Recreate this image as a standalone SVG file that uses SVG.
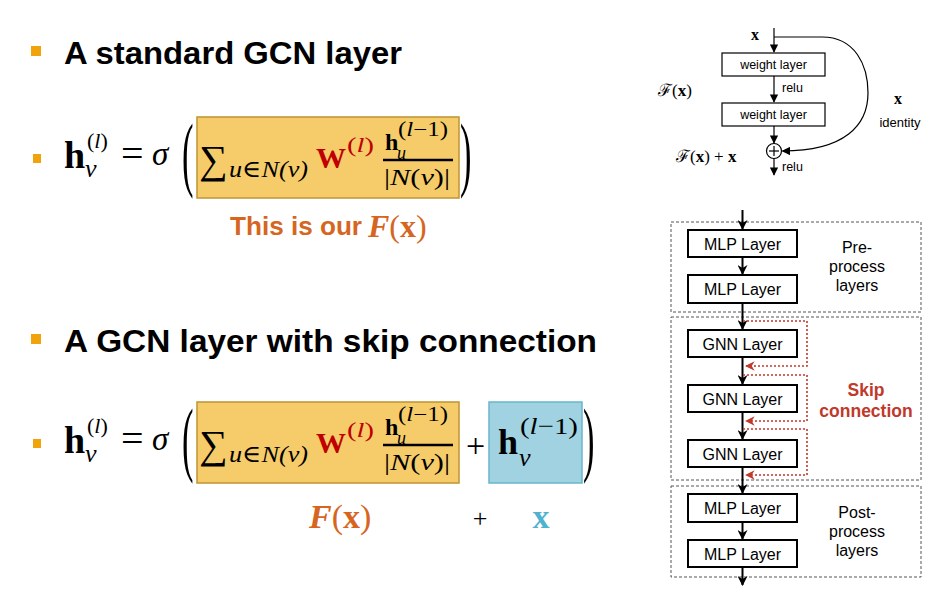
<svg xmlns="http://www.w3.org/2000/svg" width="950" height="602" viewBox="0 0 950 602">
<style>
.title{font-family:'Liberation Sans',Arial,sans-serif;font-weight:bold;font-size:32px;fill:#000}
.m{font-family:'Liberation Serif','DejaVu Serif',serif;fill:#000}
.b{font-weight:bold}
.i{font-style:italic}
.bul{fill:#F0A30A}
.yel{fill:#F6CC6A;stroke:#BF9432;stroke-width:1.5}
.blu{fill:#A0D2E1;stroke:#68B6CC;stroke-width:1.5}
.red{fill:#C00000}
.org{fill:#D6661F}
.cyan{fill:#4FB3CF}
.sans{font-family:'Liberation Sans',Arial,sans-serif;fill:#000}
.layer{fill:#fff;stroke:#000;stroke-width:2}
.wl{fill:#fff;stroke:#000;stroke-width:1.2}
.grp{fill:none;stroke:#555;stroke-width:1;stroke-dasharray:3,2}
.arr{stroke:#000;stroke-width:2;fill:none;marker-end:url(#ah)}
.arr1{stroke:#000;stroke-width:1.2;fill:none;marker-end:url(#ah2)}
.skip{stroke:#C0392B;stroke-width:1.6;fill:none;stroke-dasharray:2,2;marker-end:url(#ahr)}
.skiptxt{font-family:'Liberation Sans',Arial,sans-serif;font-weight:bold;font-size:17.5px;fill:#C0392B}
</style>
<defs>
<marker id="ah" viewBox="0 0 10 10" refX="9" refY="5" markerWidth="5" markerHeight="5" orient="auto" markerUnits="strokeWidth"><path d="M0,0 L10,5 L0,10 L3,5 z" fill="#000"/></marker>
<marker id="ah2" viewBox="0 0 10 10" refX="9" refY="5" markerWidth="7" markerHeight="7" orient="auto" markerUnits="strokeWidth"><path d="M0,0 L10,5 L0,10 z" fill="#000"/></marker>
<marker id="ahr" viewBox="0 0 10 10" refX="9" refY="5" markerWidth="6" markerHeight="6" orient="auto" markerUnits="strokeWidth"><path d="M0,0 L10,5 L0,10 L3,5 z" fill="#C0392B"/></marker>
</defs>

<!-- Titles -->
<g id="title1">
<rect class="bul" x="31" y="46" width="10" height="10"/>
<text class="title" x="64" y="64" textLength="338" lengthAdjust="spacingAndGlyphs">A standard GCN layer</text>
</g>
<g id="title2">
<rect class="bul" x="31" y="334" width="10" height="10"/>
<text class="title" x="64" y="352" textLength="533" lengthAdjust="spacingAndGlyphs">A GCN layer with skip connection</text>
</g>

<!-- Formula 1 -->
<g id="formula1">
<rect class="bul" x="33" y="154" width="8" height="9"/>
<text class="m b" x="64" y="168" font-size="38">h</text>
<text class="m" x="87" y="148" font-size="22">(<tspan class="i">l</tspan>)</text>
<text class="m i" x="85" y="177" font-size="26">v</text>
<text class="m" x="121" y="167" font-size="40">=</text>
<text class="m i" x="152" y="165" font-size="33">σ</text>
<text class="m" x="0" y="0" font-size="82" transform="translate(182,181) scale(0.42,1)">(</text>
<rect class="yel" x="197" y="117" width="262" height="81"/>
<text class="m" x="199" y="173" font-size="40">∑</text>
<text class="m i" x="229" y="177" font-size="24" textLength="79" lengthAdjust="spacingAndGlyphs">u∈N(v)</text>
<text class="m b red" x="316" y="168" font-size="30">W</text>
<text class="m red" x="347" y="152" font-size="22" textLength="27" lengthAdjust="spacingAndGlyphs">(<tspan class="i">l</tspan>)</text>
<text class="m b" x="385" y="150" font-size="24">h</text>
<text class="m i" x="397" y="159" font-size="18">u</text>
<text class="m" x="398" y="136" font-size="20" textLength="50" lengthAdjust="spacingAndGlyphs">(<tspan class="i">l</tspan>−1)</text>
<line x1="383" y1="160" x2="453" y2="160" stroke="#000" stroke-width="2.5"/>
<text class="m" x="384" y="185" font-size="24" textLength="66" lengthAdjust="spacingAndGlyphs">|<tspan class="i">N</tspan>(<tspan class="i">v</tspan>)|</text>
<text class="m" x="0" y="0" font-size="82" transform="translate(460,181) scale(0.42,1)">)</text>
<text x="230" y="235" font-family="'Liberation Sans',Arial,sans-serif" font-weight="bold" font-size="25" class="org" textLength="132" lengthAdjust="spacingAndGlyphs">This is our</text>
<text class="m b org" x="368" y="237" font-size="32"><tspan class="i">F</tspan><tspan font-weight="normal">(</tspan>x<tspan font-weight="normal">)</tspan></text>
</g>

<!-- Formula 2 -->
<g id="formula2">
<rect class="bul" x="33" y="439" width="8" height="9"/>
<text class="m b" x="64" y="453" font-size="38">h</text>
<text class="m" x="87" y="433" font-size="22">(<tspan class="i">l</tspan>)</text>
<text class="m i" x="85" y="462" font-size="26">v</text>
<text class="m" x="121" y="452" font-size="40">=</text>
<text class="m i" x="152" y="450" font-size="33">σ</text>
<text class="m" x="0" y="0" font-size="82" transform="translate(182,466) scale(0.42,1)">(</text>
<rect class="yel" x="197" y="402" width="262" height="81"/>
<text class="m" x="199" y="458" font-size="40">∑</text>
<text class="m i" x="229" y="462" font-size="24" textLength="79" lengthAdjust="spacingAndGlyphs">u∈N(v)</text>
<text class="m b red" x="316" y="453" font-size="30">W</text>
<text class="m red" x="347" y="437" font-size="22" textLength="27" lengthAdjust="spacingAndGlyphs">(<tspan class="i">l</tspan>)</text>
<text class="m b" x="385" y="435" font-size="24">h</text>
<text class="m i" x="397" y="444" font-size="18">u</text>
<text class="m" x="398" y="421" font-size="20" textLength="50" lengthAdjust="spacingAndGlyphs">(<tspan class="i">l</tspan>−1)</text>
<line x1="383" y1="445" x2="453" y2="445" stroke="#000" stroke-width="2.5"/>
<text class="m" x="384" y="470" font-size="24" textLength="66" lengthAdjust="spacingAndGlyphs">|<tspan class="i">N</tspan>(<tspan class="i">v</tspan>)|</text>
<text class="m" x="466" y="457" font-size="34">+</text>
<rect class="blu" x="489" y="402" width="93" height="81"/>
<text class="m b" x="498" y="454" font-size="36">h</text>
<text class="m" x="520" y="434" font-size="24" textLength="58" lengthAdjust="spacingAndGlyphs">(<tspan class="i">l</tspan>−1)</text>
<text class="m i" x="519" y="466" font-size="26">v</text>
<text class="m" x="0" y="0" font-size="82" transform="translate(583,466) scale(0.42,1)">)</text>
<text class="m b org" x="309" y="528" font-size="34"><tspan class="i">F</tspan><tspan font-weight="normal">(</tspan>x<tspan font-weight="normal">)</tspan></text>
<text class="m" x="480" y="527" font-size="26" text-anchor="middle">+</text>
<text class="m b cyan" x="541" y="528" font-size="34" text-anchor="middle">x</text>
</g>

<!-- ResNet block -->
<g id="resnet-input"><text class="m b" x="755" y="40" font-size="16" text-anchor="middle">x</text></g>
<g id="weight-layer-1"><rect class="wl" x="722" y="53" width="103" height="23"/><text class="sans" x="773.5" y="69" font-size="12.5" text-anchor="middle">weight layer</text></g>
<g id="weight-layer-2"><rect class="wl" x="722" y="103" width="103" height="23"/><text class="sans" x="773.5" y="119" font-size="12.5" text-anchor="middle">weight layer</text></g>
<g id="sum-node"><circle cx="774" cy="151" r="7.5" fill="#fff" stroke="#000" stroke-width="1.2"/><line x1="769" y1="151" x2="779" y2="151" stroke="#000" stroke-width="1.2"/><line x1="774" y1="146" x2="774" y2="156" stroke="#000" stroke-width="1.2"/></g>
<g id="resnet-labels">
<text class="m" x="658" y="96" font-size="17">ℱ(<tspan class="b">x</tspan>)</text>
<text class="m" x="676" y="162" font-size="17">ℱ(<tspan class="b">x</tspan>) + <tspan class="b">x</tspan></text>
<text class="sans" x="782" y="92" font-size="12.5">relu</text>
<text class="sans" x="782" y="171" font-size="12.5">relu</text>
<text class="m b" x="898" y="104" font-size="16" text-anchor="middle">x</text>
<text class="sans" x="900" y="127" font-size="13" text-anchor="middle">identity</text>
</g>

<!-- Architecture -->
<g id="pre-group"><rect class="grp" x="671" y="222" width="250" height="90"/><text class="sans" font-size="16" text-anchor="middle"><tspan x="857" y="253">Pre-</tspan><tspan x="857" y="272">process</tspan><tspan x="857" y="291">layers</tspan></text></g>
<g id="gnn-group"><rect class="grp" x="671" y="317" width="250" height="163"/><text class="skiptxt" text-anchor="middle"><tspan x="866" y="396">Skip</tspan><tspan x="866" y="417">connection</tspan></text></g>
<g id="post-group"><rect class="grp" x="671" y="486" width="250" height="91"/><text class="sans" font-size="16" text-anchor="middle"><tspan x="857" y="518">Post-</tspan><tspan x="857" y="537">process</tspan><tspan x="857" y="556">layers</tspan></text></g>
<g id="mlp1"><rect class="layer" x="688" y="230" width="109" height="27"/><text class="sans" x="742.5" y="249.5" font-size="16" text-anchor="middle">MLP Layer</text></g>
<g id="mlp2"><rect class="layer" x="688" y="275" width="109" height="28"/><text class="sans" x="742.5" y="295" font-size="16" text-anchor="middle">MLP Layer</text></g>
<g id="gnn1"><rect class="layer" x="688" y="330" width="109" height="27"/><text class="sans" x="742.5" y="349.5" font-size="16" text-anchor="middle">GNN Layer</text></g>
<g id="gnn2"><rect class="layer" x="688" y="385" width="109" height="27"/><text class="sans" x="742.5" y="404.5" font-size="16" text-anchor="middle">GNN Layer</text></g>
<g id="gnn3"><rect class="layer" x="688" y="440" width="109" height="27"/><text class="sans" x="742.5" y="459.5" font-size="16" text-anchor="middle">GNN Layer</text></g>
<g id="mlp3"><rect class="layer" x="688" y="494" width="109" height="28"/><text class="sans" x="742.5" y="514" font-size="16" text-anchor="middle">MLP Layer</text></g>
<g id="mlp4"><rect class="layer" x="688" y="540" width="109" height="27"/><text class="sans" x="742.5" y="559.5" font-size="16" text-anchor="middle">MLP Layer</text></g>

<g id="connectors">
<line class="arr1" x1="774" y1="28" x2="774" y2="52"/>
<line class="arr1" x1="774" y1="76" x2="774" y2="102"/>
<line class="arr1" x1="774" y1="126" x2="774" y2="143"/>
<line class="arr1" x1="774" y1="158.5" x2="774" y2="175"/>
<path class="arr1" d="M774,37 H822 C855,37 868,65 868,93 C868,125 845,151 782.5,151"/>
<line class="arr" x1="742.5" y1="210" x2="742.5" y2="229"/>
<line class="arr" x1="742.5" y1="257" x2="742.5" y2="274"/>
<line class="arr" x1="742.5" y1="303" x2="742.5" y2="329"/>
<line class="arr" x1="742.5" y1="357" x2="742.5" y2="384"/>
<line class="arr" x1="742.5" y1="412" x2="742.5" y2="439"/>
<line class="arr" x1="742.5" y1="467" x2="742.5" y2="493"/>
<line class="arr" x1="742.5" y1="522" x2="742.5" y2="539"/>
<line class="arr" x1="742.5" y1="567" x2="742.5" y2="585"/>
<path class="skip" d="M743,321 H807 V366 H746"/>
<path class="skip" d="M743,375 H807 V421 H746"/>
<path class="skip" d="M743,429 H807 V475 H746"/>
</g>
</svg>
